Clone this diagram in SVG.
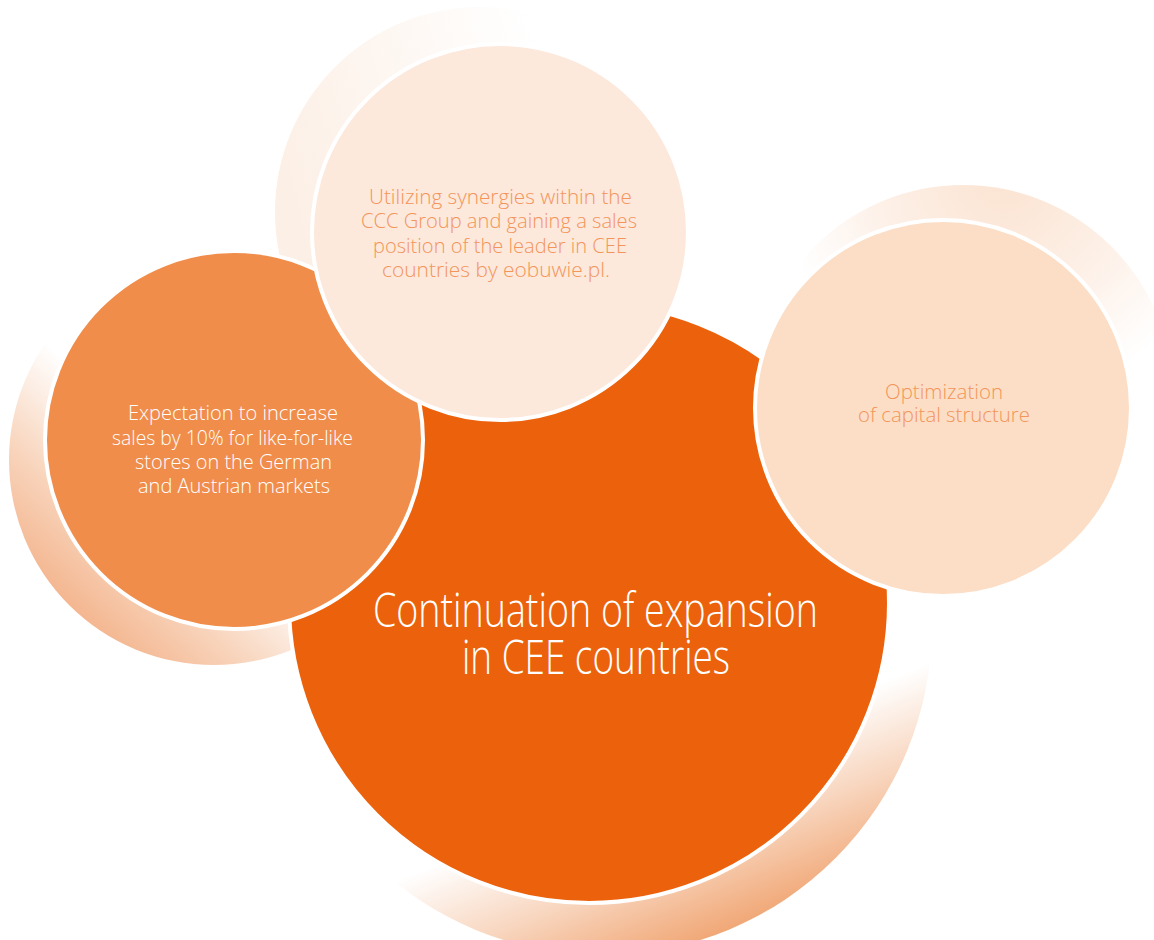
<svg xmlns="http://www.w3.org/2000/svg" width="1154" height="940" viewBox="0 0 1154 940">
  <style>
    .disc { stroke: #ffffff; stroke-width: 4; }
    .lbl { font-family: "Open Sans", "Liberation Sans", sans-serif; font-weight: 300; }
    .small { font-size: 20px; }
    .on-light { fill: #f2955a; }
    .on-dark { fill: #ffffff; }
  </style>
  <defs>
    <!-- soft halo rings behind each disc -->
    <linearGradient id="haloMain" gradientUnits="userSpaceOnUse" x1="790" y1="720" x2="862" y2="896">
      <stop offset="0" stop-color="#ffffff"/>
      <stop offset="0.45" stop-color="#f8d6bf"/>
      <stop offset="1" stop-color="#ef9d66"/>
    </linearGradient>
    <linearGradient id="haloLeft" gradientUnits="userSpaceOnUse" x1="150" y1="440" x2="10" y2="590">
      <stop offset="0" stop-color="#ffffff"/>
      <stop offset="0.5" stop-color="#f8d3ba"/>
      <stop offset="1" stop-color="#f2ab80"/>
    </linearGradient>
    <linearGradient id="haloTop" gradientUnits="userSpaceOnUse" x1="280" y1="200" x2="560" y2="120">
      <stop offset="0" stop-color="#fcefe5"/>
      <stop offset="1" stop-color="#ffffff"/>
    </linearGradient>
    <radialGradient id="haloRight" gradientUnits="userSpaceOnUse" cx="1005" cy="175" r="225">
      <stop offset="0" stop-color="#fbe3d1"/>
      <stop offset="0.55" stop-color="#fdf0e7"/>
      <stop offset="1" stop-color="#ffffff"/>
    </radialGradient>
  </defs>

  <rect width="1154" height="940" fill="#ffffff"/>

  <g id="halos">
    <circle cx="602" cy="625" r="330" fill="url(#haloMain)"/>
    <circle cx="214" cy="460" r="205" fill="url(#haloLeft)"/>
    <circle cx="480" cy="212" r="205" fill="url(#haloTop)"/>
    <circle cx="963" cy="395" r="210" fill="url(#haloRight)"/>
  </g>

  <g id="node-expansion">
    <circle class="disc" cx="589" cy="603" r="300" fill="#ec620c"/>
    <text class="lbl on-dark" font-size="47">
      <tspan x="373" y="627" textLength="445" lengthAdjust="spacingAndGlyphs">Continuation of expansion</tspan>
      <tspan x="462" y="674" textLength="268" lengthAdjust="spacingAndGlyphs">in CEE countries</tspan>
    </text>
  </g>

  <g id="node-sales">
    <circle class="disc" cx="234" cy="440" r="189" fill="#f08d4b"/>
    <text class="lbl small on-dark">
      <tspan x="128" y="420" textLength="210" lengthAdjust="spacingAndGlyphs">Expectation to increase</tspan>
      <tspan x="112" y="445" textLength="241" lengthAdjust="spacingAndGlyphs">sales by 10% for like-for-like</tspan>
      <tspan x="135" y="469" textLength="197" lengthAdjust="spacingAndGlyphs">stores on the German</tspan>
      <tspan x="138" y="493" textLength="192" lengthAdjust="spacingAndGlyphs">and Austrian markets</tspan>
    </text>
  </g>

  <g id="node-capital">
    <circle class="disc" cx="943" cy="408" r="188" fill="#fcdec6"/>
    <text class="lbl small on-light">
      <tspan x="885" y="399" textLength="118" lengthAdjust="spacingAndGlyphs">Optimization</tspan>
      <tspan x="858" y="422" textLength="172" lengthAdjust="spacingAndGlyphs">of capital structure</tspan>
    </text>
  </g>

  <g id="node-synergies">
    <circle class="disc" cx="500" cy="232" r="188" fill="#fde8dc"/>
    <text class="lbl small on-light">
      <tspan x="369" y="204" textLength="263" lengthAdjust="spacingAndGlyphs">Utilizing synergies within the</tspan>
      <tspan x="361" y="228" textLength="276" lengthAdjust="spacingAndGlyphs">CCC Group and gaining a sales</tspan>
      <tspan x="373" y="253" textLength="254" lengthAdjust="spacingAndGlyphs">position of the leader in CEE</tspan>
      <tspan x="382" y="277" textLength="228" lengthAdjust="spacingAndGlyphs">countries by eobuwie.pl.</tspan>
    </text>
  </g>

  <g id="connectors"></g>
</svg>
